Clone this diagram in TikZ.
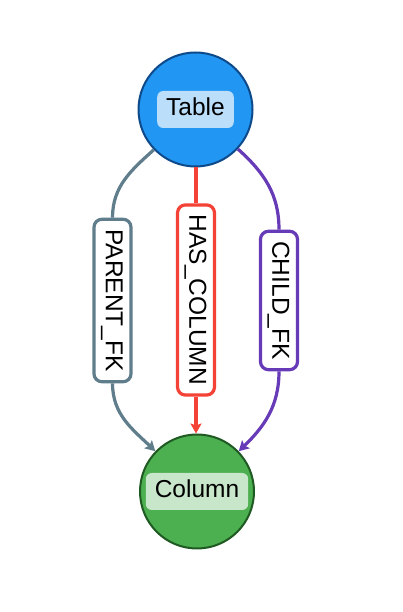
\documentclass[tikz,border=0pt]{standalone}
\usepackage{fontspec}
\setmainfont{Liberation Sans}
\usetikzlibrary{arrows.meta}
\definecolor{tblfill}{HTML}{2196F3}
\definecolor{tbldraw}{HTML}{0E4A8A}
\definecolor{tbllab}{HTML}{BBDEFB}
\definecolor{colfill}{HTML}{4CAF50}
\definecolor{coldraw}{HTML}{1F5A22}
\definecolor{collab}{HTML}{C8E6C9}
\definecolor{pcol}{HTML}{607D8B}
\definecolor{hcol}{HTML}{F44336}
\definecolor{ccol}{HTML}{673AB7}
\begin{document}
\begin{tikzpicture}[x=1pt,y=1pt,
  fnt/.style={font=\fontsize{24.5}{29}\selectfont},
  ent/.style={circle,minimum size=114pt,line width=2pt,inner sep=0pt},
  entlab/.style={fnt,rounded corners=6pt,inner xsep=9pt,inner ysep=0pt,minimum height=37pt,text height=17.5pt,text depth=5pt},
  rel/.style={line width=3.2pt},
  reltip/.style={rel,-{Stealth[length=10pt,width=11pt,inset=2pt]}},
  rellab/.style={fnt,draw,line width=3.2pt,fill=white,rounded corners=8pt,rotate=-90,inner xsep=10pt,inner ysep=0pt,minimum height=37pt,text height=17.5pt,text depth=4pt}
]
\useasboundingbox[fill=white] (0,0) rectangle (403,612);
\node[ent,fill=tblfill,draw=tbldraw] (T) at (195.5,502.5) {};
\node[entlab,fill=tbllab] (TL) at (T.center) {Table};
\node[ent,fill=colfill,draw=coldraw] (C) at (197,120.5) {};
\node[entlab,fill=collab] (CL) at (C.center) {Column};
\node[rellab,draw=pcol] (P) at (112.5,311.5) {PARENT\_FK};
\node[rellab,draw=hcol] (H) at (196,312) {HAS\_COLUMN};
\node[rellab,draw=ccol] (K) at (279,311.5) {CHILD\_FK};
\draw[rel,pcol] (T.224) to[out=222,in=90] (P.west);
\draw[reltip,pcol] (P.east) to[out=-90,in=136] (C.136);
\draw[rel,hcol] (T.south -| H.west) -- (H.west);
\draw[reltip,hcol] (H.east) -- (H.east |- C.north);
\draw[rel,ccol] (T.-43) to[out=-42,in=90] (K.west);
\draw[reltip,ccol] (K.east) to[out=-90,in=44] (C.44);
\end{tikzpicture}
\end{document}
